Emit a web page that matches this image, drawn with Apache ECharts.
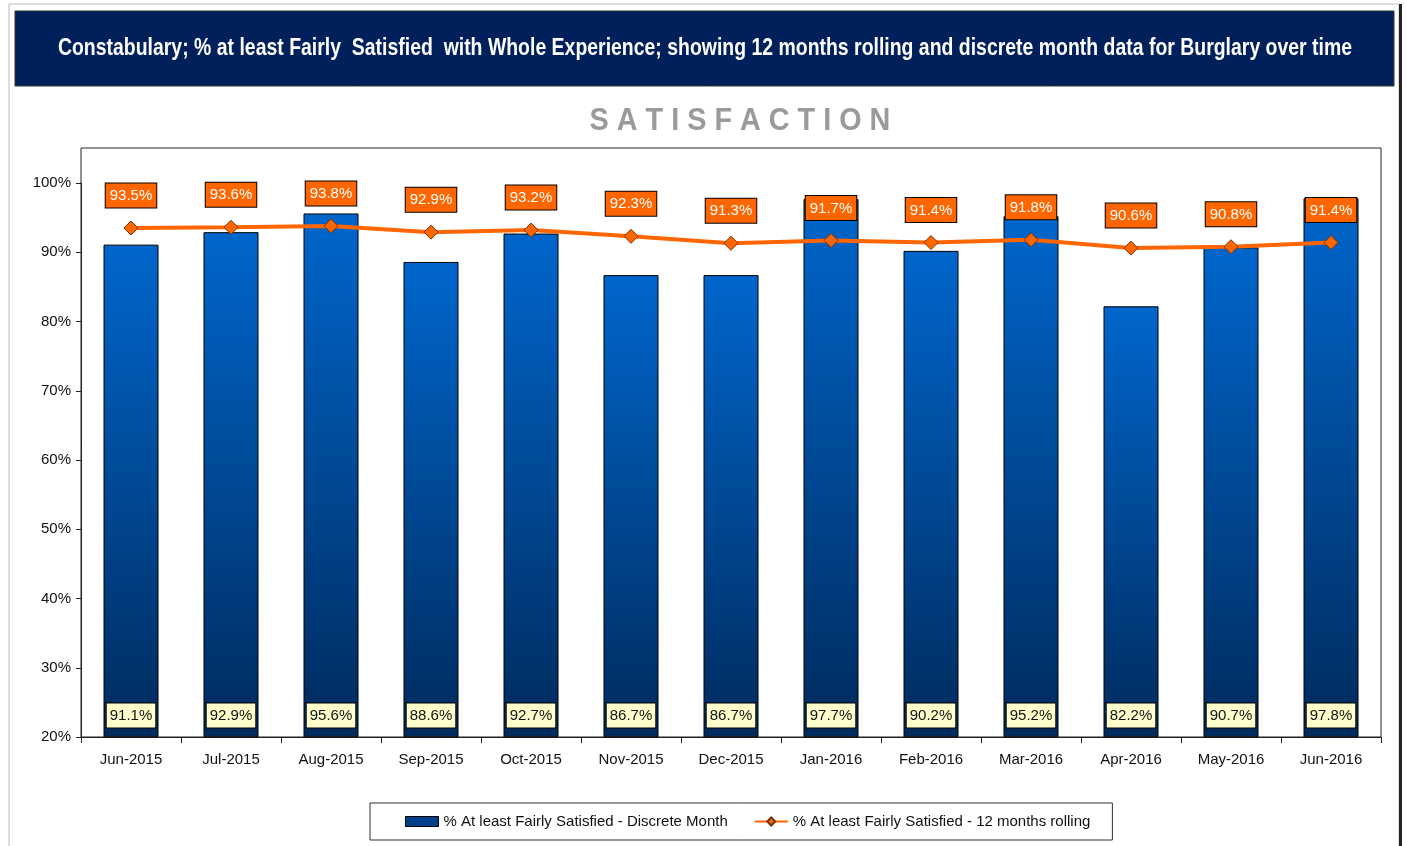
<!DOCTYPE html>
<html>
<head>
<meta charset="utf-8">
<script src="https://cdn.jsdelivr.net/npm/echarts@6/dist/echarts.min.js"></script>
<style>
  html, body { margin: 0; padding: 0; background: #fff; }
  #main { width: 1407px; height: 846px; }
</style>
</head>
<body>
<div id="main"></div>
<script>
// data
var months = ["Jun-2015", "Jul-2015", "Aug-2015", "Sep-2015", "Oct-2015", "Nov-2015", "Dec-2015",
	"Jan-2016", "Feb-2016", "Mar-2016", "Apr-2016", "May-2016", "Jun-2016"];
var discreteMonth = [91.1, 92.9, 95.6, 88.6, 92.7, 86.7, 86.7, 97.7, 90.2, 95.2, 82.2, 90.7, 97.8];
var rolling12 = [93.5, 93.6, 93.8, 92.9, 93.2, 92.3, 91.3, 91.7, 91.4, 91.8, 90.6, 90.8, 91.4];

var font = "'Liberation Sans', Arial, sans-serif";

var barFill = new echarts.graphic.LinearGradient(0, 0, 0, 1, [
	{ offset: 0, color: "#0066cc" },
	{ offset: 1, color: "#002a5c" }
]);

var myCharts = echarts.init(document.getElementById("main"));

// percent label text
function pct(p) {
	return p.value.toFixed(1) + "%";
}

var option = {
	backgroundColor: "#fff",
	textStyle: { fontFamily: font },
	graphic: [
		// outer frame
		{ type: "rect", shape: { x: 9, y: 4, width: 1390, height: 860 },
			style: { fill: "none", stroke: "#bbbbbb", lineWidth: 1 }, silent: true },
		{ type: "rect", shape: { x: 1399, y: 4, width: 3, height: 860 },
			style: { fill: "#222" }, silent: true },
		// title band
		{ type: "rect", shape: { x: 15, y: 11, width: 1379, height: 75 },
			style: { fill: "#00205b", stroke: "#333", lineWidth: 1 }, silent: true },
		{ type: "text", x: 705, y: 48, scaleX: 0.81,
			style: { text: "Constabulary; % at least Fairly  Satisfied  with Whole Experience; showing 12 months rolling and discrete month data for Burglary over time",
				fill: "#fff", font: "bold 24px " + font, textAlign: "center", textVerticalAlign: "middle" }, silent: true },
		{ type: "text", x: 740, y: 121, scaleX: 0.9,
			style: { text: "S A T I S F A C T I O N", fill: "#9a9a9a", font: "bold 32px " + font,
				textAlign: "center", textVerticalAlign: "middle" }, silent: true },
		// plot frame
		{ type: "rect", shape: { x: 81, y: 148, width: 1300, height: 589 },
			style: { fill: "none", stroke: "#222", lineWidth: 1 }, silent: true, z: 10 }
	],
	legend: {
		bottom: 6,
		left: 370,
		padding: [11, 22, 11, 35],
		itemGap: 26,
		itemWidth: 33,
		itemHeight: 10,
		borderColor: "#333",
		borderWidth: 1,
		textStyle: { fontFamily: font, fontSize: 15, color: "#111" },
		data: [
			{ name: "% At least Fairly Satisfied - Discrete Month", icon: "rect",
				itemStyle: { color: "#00408a", borderColor: "#000", borderWidth: 1 } },
			{ name: "% At least Fairly Satisfied - 12 months rolling" }
		]
	},
	grid: { left: 81, right: 26, top: 183, bottom: 109, containLabel: false },
	xAxis: {
		type: "category",
		data: months,
		axisLine: { lineStyle: { color: "#222" } },
		axisTick: { show: true, alignWithLabel: false, length: 6, lineStyle: { color: "#222" } },
		axisLabel: { color: "#111", fontSize: 15, margin: 15, fontFamily: font }
	},
	yAxis: {
		type: "value",
		min: 20,
		max: 100,
		interval: 10,
		splitLine: { show: false },
		axisLine: { show: true, lineStyle: { color: "#222" } },
		axisTick: { show: true, length: 5, inside: false, lineStyle: { color: "#222" } },
		axisLabel: {
			color: "#111", fontSize: 15, margin: 10, fontFamily: font,
			formatter: "{value}%"
		}
	},
	series: [
		{
			name: "% At least Fairly Satisfied - Discrete Month",
			type: "bar",
			data: discreteMonth,
			barWidth: "55%",
			itemStyle: { color: barFill, borderColor: "#000", borderWidth: 1 },
			label: {
				show: true,
				position: "insideBottom",
				distance: 10,
				formatter: pct,
				color: "#111",
				fontSize: 15,
				fontFamily: font,
				backgroundColor: "#ffffcc",
				borderColor: "#000",
				borderWidth: 1,
				padding: [5, 3, 4, 3]
			}
		},
		{
			name: "% At least Fairly Satisfied - 12 months rolling",
			type: "line",
			data: rolling12,
			symbol: "diamond",
			symbolSize: 14,
			lineStyle: { color: "#ff6600", width: 4 },
			itemStyle: { color: "#ff6600", borderColor: "#7a3000", borderWidth: 1 },
			z: 5,
			label: {
				show: true,
				position: "top",
				distance: 13,
				formatter: pct,
				color: "#fff",
				fontSize: 15,
				fontFamily: font,
				backgroundColor: "#ff6600",
				borderColor: "#000",
				borderWidth: 1,
				padding: [5, 4, 4, 4]
			}
		}
	]
};

myCharts.setOption(option);
</script>
</body>
</html>
